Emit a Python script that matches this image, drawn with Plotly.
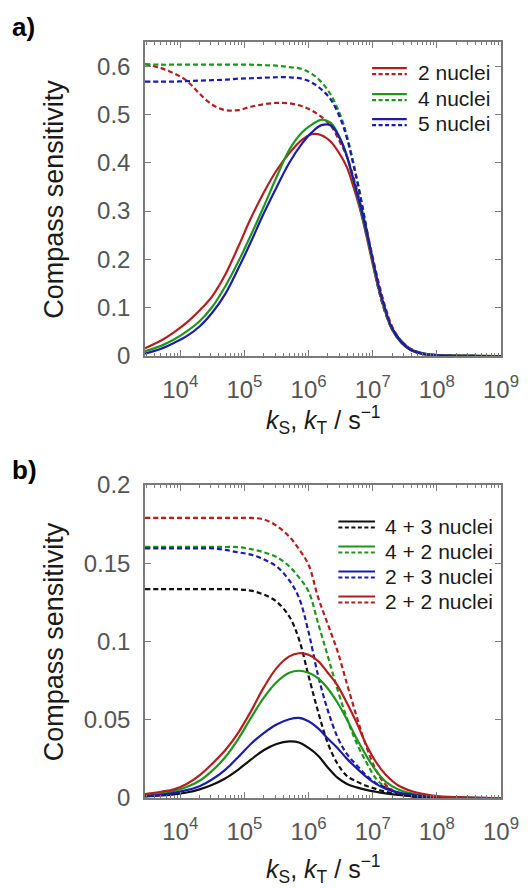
import plotly.graph_objects as go

# ---------------- data (log10 of rate constant, sensitivity) ----------------
top_logk = [3.45, 3.7, 3.9, 4.1, 4.3, 4.5, 4.7, 4.9, 5.1, 5.3, 5.5, 5.7, 5.9, 6.05, 6.2,
            6.35, 6.5, 6.6, 6.7, 6.8, 6.9, 7.0, 7.1, 7.2, 7.3, 7.45, 7.6, 7.8, 8.0, 8.5, 9.0]

top_2n_solid = [0.016, 0.032, 0.049, 0.069, 0.094, 0.124, 0.168, 0.225, 0.285, 0.338, 0.384, 0.42, 0.448,
                0.459, 0.457, 0.443, 0.415, 0.39, 0.35, 0.305, 0.25, 0.19, 0.135, 0.09, 0.055, 0.027,
                0.012, 0.004, 0.0015, 0.0002, 0.0]
top_4n_solid = [0.01, 0.021, 0.034, 0.051, 0.072, 0.102, 0.144, 0.194, 0.25, 0.309, 0.37, 0.427, 0.463,
                0.479, 0.489, 0.482, 0.448, 0.412, 0.362, 0.31, 0.255, 0.195, 0.138, 0.092, 0.056, 0.027,
                0.012, 0.004, 0.0015, 0.0002, 0.0]
top_5n_solid = [0.005, 0.015, 0.027, 0.041, 0.061, 0.09, 0.128, 0.18, 0.236, 0.295, 0.349, 0.40, 0.44,
                0.463, 0.478, 0.477, 0.447, 0.413, 0.365, 0.315, 0.26, 0.2, 0.142, 0.095, 0.058, 0.028,
                0.012, 0.004, 0.0015, 0.0002, 0.0]
top_2n_dash = [0.604, 0.596, 0.585, 0.57, 0.543, 0.52, 0.509, 0.509, 0.516, 0.521, 0.524, 0.523, 0.517,
               0.508, 0.495, 0.476, 0.44, 0.412, 0.37, 0.32, 0.265, 0.205, 0.148, 0.1, 0.062, 0.031,
               0.014, 0.005, 0.002, 0.0002, 0.0]
top_4n_dash = [0.604, 0.603, 0.603, 0.603, 0.603, 0.603, 0.603, 0.603, 0.603, 0.602, 0.601, 0.598, 0.594,
               0.584, 0.567, 0.54, 0.497, 0.455, 0.40, 0.338, 0.268, 0.197, 0.135, 0.089, 0.058, 0.03,
               0.014, 0.005, 0.002, 0.0002, 0.0]
top_5n_dash = [0.568, 0.568, 0.568, 0.569, 0.57, 0.571, 0.572, 0.574, 0.575, 0.576, 0.577, 0.577, 0.574,
               0.566, 0.552, 0.53, 0.49, 0.45, 0.395, 0.335, 0.265, 0.195, 0.133, 0.088, 0.057, 0.03,
               0.014, 0.005, 0.002, 0.0002, 0.0]

bot_logk = [3.45, 3.7, 3.9, 4.1, 4.3, 4.5, 4.7, 4.9, 5.1, 5.3, 5.5, 5.7, 5.85, 6.0, 6.15,
            6.3, 6.45, 6.6, 6.75, 6.9, 7.05, 7.2, 7.4, 7.6, 7.8, 8.0, 8.5, 9.0]

bot_43_solid = [0.001, 0.0016, 0.0023, 0.0035, 0.0055, 0.0085, 0.0125, 0.018, 0.0245, 0.0305, 0.0345, 0.0362,
                0.0355, 0.032, 0.027, 0.0195, 0.013, 0.009, 0.0068, 0.0052, 0.004, 0.0029, 0.0019,
                0.0012, 0.0008, 0.0005, 0.0001, 0.0]
bot_42_solid = [0.002, 0.003, 0.0045, 0.007, 0.011, 0.0175, 0.026, 0.0375, 0.051, 0.064, 0.074, 0.080,
                0.0813, 0.080, 0.0765, 0.070, 0.061, 0.050, 0.038, 0.027, 0.0175, 0.0105, 0.0055,
                0.003, 0.0015, 0.0007, 0.0001, 0.0]
bot_23_solid = [0.0012, 0.002, 0.0033, 0.005, 0.0075, 0.012, 0.018, 0.026, 0.0345, 0.0415, 0.047, 0.0503,
                0.0512, 0.049, 0.0445, 0.038, 0.032, 0.025, 0.019, 0.0135, 0.009, 0.006, 0.0035,
                0.0022, 0.0012, 0.0006, 0.0001, 0.0]
bot_22_solid = [0.0025, 0.004, 0.0055, 0.009, 0.0145, 0.022, 0.0305, 0.0415, 0.0553, 0.0705, 0.083, 0.0905,
                0.0925, 0.0915, 0.0875, 0.080, 0.072, 0.0605, 0.048, 0.034, 0.023, 0.015, 0.008,
                0.0045, 0.0025, 0.0012, 0.0002, 0.0]
bot_43_dash = [0.1335, 0.1335, 0.1335, 0.1335, 0.1335, 0.1335, 0.1335, 0.1333, 0.1325, 0.130, 0.1255,
               0.116, 0.1015, 0.078, 0.055, 0.035, 0.022, 0.014, 0.0105, 0.0078, 0.0058, 0.004, 0.0022,
               0.0011, 0.0005, 0.0002, 0.0, 0.0]
bot_42_dash = [0.1605, 0.1605, 0.1605, 0.1605, 0.1605, 0.1605, 0.1604, 0.1603, 0.159, 0.157, 0.154, 0.148,
               0.141, 0.132, 0.1115, 0.0906, 0.0695, 0.0507, 0.035, 0.0228, 0.0125, 0.007, 0.003,
               0.0012, 0.0005, 0.0002, 0.0, 0.0]
bot_23_dash = [0.1595, 0.1595, 0.1595, 0.1595, 0.1595, 0.1595, 0.1585, 0.157, 0.1555, 0.1525, 0.148, 0.139,
               0.128, 0.106, 0.078, 0.056, 0.039, 0.028, 0.021, 0.0145, 0.0095, 0.0068, 0.0035,
               0.0015, 0.0006, 0.0002, 0.0, 0.0]
bot_22_dash = [0.179, 0.179, 0.179, 0.179, 0.179, 0.179, 0.179, 0.179, 0.179, 0.178, 0.174, 0.167,
               0.159, 0.149, 0.128, 0.111, 0.094, 0.0727, 0.052, 0.033, 0.018, 0.0085, 0.003,
               0.001, 0.0004, 0.0002, 0.0, 0.0]

top_labels = ["2 nuclei", "4 nuclei", "5 nuclei"]
bot_labels = ["4 + 3 nuclei", "4 + 2 nuclei", "2 + 3 nuclei", "2 + 2 nuclei"]
x_tick_exponents = [4, 5, 6, 7, 8, 9]

# ---------------- styling ----------------
RED, GREEN, BLUE, BLACK = "#B41E1E", "#1E961E", "#1C1CAA", "#111111"
FONT = "Liberation Sans, Arial, sans-serif"
AXC = "#7a7a7a"
TICKC = "#555555"
TXT = "#1a1a1a"
OFF = 8                       # page body margin of the html page
W, H = 531 - OFF, 888 - OFF
# plot frame in screen pixels
P_LEFT, P_RIGHT = 145, 504
TOP_T, TOP_B = 42, 356
BOT_T, BOT_B = 485, 798
ML, MR = P_LEFT - OFF, W - (P_RIGHT - OFF)
MT, MB = TOP_T - OFF, H - (BOT_B - OFF)
PW, PH = W - ML - MR, H - MT - MB
DASH = "5px,3px"
LW = 2.2
SMOOTH = 1.0


def px2x(px):
    return (px - OFF - ML) / PW


def px2y(py):
    return (H - MB - (py - OFF)) / PH


fig = go.Figure()

top_solid = [top_2n_solid, top_4n_solid, top_5n_solid]
top_dash = [top_2n_dash, top_4n_dash, top_5n_dash]
top_cols = [RED, GREEN, BLUE]
tx = [10 ** v for v in top_logk]
for lab, d, c in zip(top_labels, top_dash, top_cols):
    fig.add_trace(go.Scatter(x=tx, y=d, mode="lines", name=lab + " (T)", showlegend=False,
                             line=dict(color=c, width=LW, dash=DASH, shape="spline", smoothing=SMOOTH),
                             xaxis="x", yaxis="y"))
for lab, s, c in zip(top_labels, top_solid, top_cols):
    fig.add_trace(go.Scatter(x=tx, y=s, mode="lines", name=lab + " (S)", showlegend=False,
                             line=dict(color=c, width=LW, shape="spline", smoothing=SMOOTH),
                             xaxis="x", yaxis="y"))

bot_solid = [bot_43_solid, bot_42_solid, bot_23_solid, bot_22_solid]
bot_dash = [bot_43_dash, bot_42_dash, bot_23_dash, bot_22_dash]
bot_cols = [BLACK, GREEN, BLUE, RED]
bx = [10 ** v for v in bot_logk]
for lab, d, c in zip(bot_labels, bot_dash, bot_cols):
    fig.add_trace(go.Scatter(x=bx, y=d, mode="lines", name=lab + " (T)", showlegend=False,
                             line=dict(color=c, width=LW, dash=DASH, shape="spline", smoothing=SMOOTH),
                             xaxis="x2", yaxis="y2"))
for lab, s, c in zip(bot_labels, bot_solid, bot_cols):
    fig.add_trace(go.Scatter(x=bx, y=s, mode="lines", name=lab + " (S)", showlegend=False,
                             line=dict(color=c, width=LW, shape="spline", smoothing=SMOOTH),
                             xaxis="x2", yaxis="y2"))

xcommon = dict(type="log", range=[3.45, 9.0], showgrid=False, zeroline=False,
               showline=True, linecolor=AXC, linewidth=1.5, mirror="allticks",
               ticks="inside", ticklen=6, tickwidth=1.3, tickcolor=AXC,
               tickmode="array", tickvals=[10 ** e for e in x_tick_exponents],
               ticktext=["10<sup>%d</sup>" % e for e in x_tick_exponents],
               tickfont=dict(family=FONT, size=24, color=TICKC), ticklabelstandoff=11,
               minor=dict(ticks="inside", ticklen=3, tickcolor=AXC, tickwidth=1, dtick="D1", showgrid=False))
ycommon = dict(showgrid=False, zeroline=False, showline=True, linecolor=AXC, linewidth=1.5,
               mirror="allticks", ticks="inside", ticklen=6, tickwidth=1.3, tickcolor=AXC,
               tickfont=dict(family=FONT, size=24, color=TICKC), ticklabelstandoff=8)

top_dom = [px2y(TOP_B), px2y(TOP_T)]
bot_dom = [px2y(BOT_B), px2y(BOT_T)]

fig.update_layout(
    width=W, height=H, margin=dict(l=ML, r=MR, t=MT, b=MB),
    paper_bgcolor="white", plot_bgcolor="white", showlegend=False,
    xaxis=dict(xcommon, anchor="y", domain=[0, 1]),
    yaxis=dict(ycommon, anchor="x", domain=top_dom, range=[0, 0.65], dtick=0.1, tick0=0),
    xaxis2=dict(xcommon, anchor="y2", domain=[0, 1]),
    yaxis2=dict(ycommon, anchor="x2", domain=bot_dom, range=[0, 0.2], dtick=0.05, tick0=0),
)

ann = []
shapes = []
xtitle = "<i>k</i><sub>S</sub>, <i>k</i><sub>T</sub> / s<sup>−1</sup>"
for ty, ymid, lab, ly in [(420, (TOP_T + TOP_B) / 2, "a)", 27), (869, (BOT_T + BOT_B) / 2, "b)", 470)]:
    ann.append(dict(text=xtitle, xref="paper", yref="paper", x=0.5, y=px2y(ty), showarrow=False,
                    xanchor="center", yanchor="middle", font=dict(family=FONT, size=25, color=TXT)))
    ann.append(dict(text="Compass sensitivity", xref="paper", yref="paper", x=px2x(53), y=px2y(ymid),
                    textangle=-90, showarrow=False, xanchor="center", yanchor="middle",
                    font=dict(family=FONT, size=27, color=TXT)))
    ann.append(dict(text="<b>%s</b>" % lab, xref="paper", yref="paper", x=px2x(9), y=px2y(ly),
                    showarrow=False, xanchor="left", yanchor="middle",
                    font=dict(family=FONT, size=26, color="#000000")))


# legends (solid line over dashed line, then label)
def legend(labels, colors, rows_py, x0, x1, xt):
    for lab, c, ry in zip(labels, colors, rows_py):
        shapes.append(dict(type="line", xref="paper", yref="paper", x0=px2x(x0), x1=px2x(x1),
                           y0=px2y(ry - 4.5), y1=px2y(ry - 4.5), line=dict(color=c, width=LW)))
        shapes.append(dict(type="line", xref="paper", yref="paper", x0=px2x(x0), x1=px2x(x1),
                           y0=px2y(ry + 1.5), y1=px2y(ry + 1.5), line=dict(color=c, width=LW, dash="4px,2.5px")))
        ann.append(dict(text=lab, xref="paper", yref="paper", x=px2x(xt), y=px2y(ry), showarrow=False,
                        xanchor="left", yanchor="middle", font=dict(family=FONT, size=21, color=TXT)))


legend(top_labels, top_cols, [72.7, 98.7, 123.7], 374, 409, 418)
legend(bot_labels, bot_cols, [526, 551, 576, 601], 340, 377, 385)

fig.update_layout(annotations=ann, shapes=shapes)
fig.write_html("out.html")
